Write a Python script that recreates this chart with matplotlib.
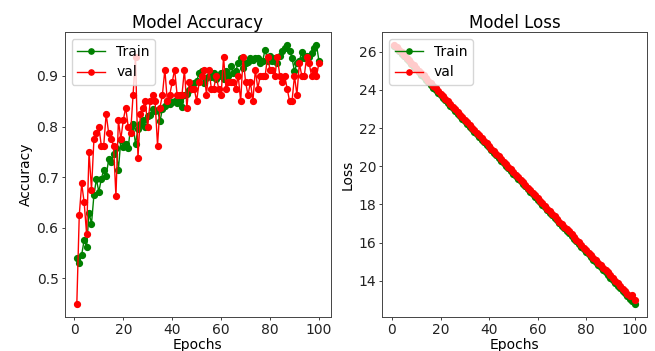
import matplotlib.pyplot as plt

epochs = list(range(1, 101))

train_acc = [0.541, 0.531, 0.547, 0.576, 0.562, 0.630, 0.608, 0.665, 0.696, 0.671,
             0.696, 0.715, 0.702, 0.735, 0.729, 0.746, 0.758, 0.715, 0.773, 0.760,
             0.765, 0.757, 0.800, 0.805, 0.765, 0.796, 0.805, 0.812, 0.800, 0.820,
             0.822, 0.835, 0.830, 0.833, 0.810, 0.835, 0.840, 0.850, 0.845, 0.848,
             0.850, 0.846, 0.850, 0.838, 0.863, 0.865, 0.872, 0.880, 0.885, 0.890,
             0.905, 0.909, 0.885, 0.895, 0.900, 0.897, 0.905, 0.893, 0.900, 0.905,
             0.893, 0.910, 0.900, 0.919, 0.905, 0.910, 0.925, 0.935, 0.915, 0.925,
             0.928, 0.935, 0.932, 0.935, 0.935, 0.925, 0.930, 0.952, 0.930, 0.940,
             0.930, 0.935, 0.925, 0.940, 0.950, 0.955, 0.961, 0.950, 0.935, 0.909,
             0.925, 0.930, 0.947, 0.935, 0.940, 0.938, 0.945, 0.955, 0.961, 0.930]

val_acc = [0.4500, 0.6250, 0.6875, 0.6500, 0.5875, 0.7500, 0.6750, 0.7750, 0.7875, 0.8000,
           0.7625, 0.7625, 0.8250, 0.7875, 0.7750, 0.7625, 0.6625, 0.8125, 0.7750, 0.8125,
           0.8375, 0.8000, 0.7875, 0.8625, 0.9375, 0.7375, 0.8250, 0.8375, 0.8500, 0.8000,
           0.8500, 0.8625, 0.8500, 0.7625, 0.8375, 0.8625, 0.9125, 0.8500, 0.8625, 0.8875,
           0.9125, 0.8625, 0.8625, 0.8625, 0.9125, 0.8375, 0.8875, 0.8750, 0.8750, 0.8500,
           0.8875, 0.9000, 0.9125, 0.8625, 0.9125, 0.8750, 0.8750, 0.9000, 0.8750, 0.8625,
           0.9375, 0.8750, 0.8875, 0.8875, 0.8875, 0.8750, 0.9000, 0.8500, 0.9375, 0.8875,
           0.8625, 0.8875, 0.8500, 0.9125, 0.8750, 0.9000, 0.9000, 0.9000, 0.9375, 0.9125,
           0.9125, 0.9000, 0.9375, 0.9000, 0.8875, 0.9000, 0.8750, 0.8500, 0.8500, 0.9000,
           0.8625, 0.9250, 0.9000, 0.9000, 0.9375, 0.9250, 0.9000, 0.9125, 0.9000, 0.9250]

train_loss = [26.32, 26.18, 26.05, 25.90, 25.78, 25.63, 25.50, 25.36, 25.22, 25.09,
              24.95, 24.81, 24.68, 24.54, 24.40, 24.27, 24.13, 23.99, 23.86, 23.72,
              23.58, 23.45, 23.31, 23.17, 23.04, 22.90, 22.76, 22.63, 22.49, 22.35,
              22.22, 22.08, 21.94, 21.81, 21.67, 21.53, 21.40, 21.26, 21.12, 20.99,
              20.85, 20.71, 20.58, 20.44, 20.30, 20.17, 20.03, 19.89, 19.76, 19.62,
              19.48, 19.35, 19.21, 19.07, 18.94, 18.80, 18.66, 18.53, 18.39, 18.25,
              18.12, 17.98, 17.84, 17.71, 17.57, 17.43, 17.30, 17.16, 17.02, 16.89,
              16.75, 16.61, 16.48, 16.34, 16.20, 16.07, 15.93, 15.79, 15.66, 15.52,
              15.38, 15.25, 15.11, 14.97, 14.84, 14.70, 14.56, 14.43, 14.29, 14.15,
              14.02, 13.88, 13.74, 13.61, 13.47, 13.33, 13.20, 13.06, 12.92, 12.79]

val_loss = [26.36, 26.25, 26.10, 25.98, 25.84, 25.70, 25.58, 25.44, 25.30, 25.16,
            25.02, 24.90, 24.76, 24.62, 24.49, 24.36, 24.20, 24.08, 23.94, 23.80,
            23.66, 23.52, 23.40, 23.26, 23.10, 22.98, 22.84, 22.70, 22.57, 22.43,
            22.30, 22.16, 22.02, 21.88, 21.75, 21.62, 21.47, 21.34, 21.21, 21.06,
            20.93, 20.80, 20.66, 20.52, 20.38, 20.24, 20.11, 19.97, 19.84, 19.70,
            19.56, 19.42, 19.29, 19.15, 19.01, 18.88, 18.74, 18.60, 18.47, 18.33,
            18.19, 18.06, 17.92, 17.78, 17.64, 17.52, 17.38, 17.24, 17.10, 16.97,
            16.84, 16.72, 16.62, 16.45, 16.30, 16.16, 16.02, 15.88, 15.74, 15.61,
            15.47, 15.34, 15.20, 15.07, 14.94, 14.80, 14.66, 14.56, 14.48, 14.30,
            14.14, 14.00, 13.86, 13.72, 13.58, 13.44, 13.32, 13.22, 13.25, 13.00]

fig = plt.figure(figsize=(6.55, 3.51), dpi=100)
ax1 = fig.add_axes([0.0988, 0.0977, 0.4066, 0.811])
ax2 = fig.add_axes([0.5838, 0.0977, 0.4035, 0.811])


def style_axes(ax, title, ylabel):
    ax.set_title(title, fontsize=12, pad=3)
    ax.set_xlabel('Epochs', fontsize=10, labelpad=1)
    ax.set_ylabel(ylabel, fontsize=10, labelpad=3)
    ax.set_xticks([0, 20, 40, 60, 80, 100])
    ax.tick_params(labelsize=10, length=2.2, width=0.6, pad=2.2, colors='#222222')
    for sp in ax.spines.values():
        sp.set_linewidth(0.7)
        sp.set_color('#444444')
    ax.legend(loc='upper left', fontsize=10, markerscale=0.9)


ax1.plot(epochs, train_acc, color='green', marker='o', markersize=4.2, linewidth=1.0, label='Train')
ax1.plot(epochs, val_acc, color='red', marker='o', markersize=4.2, linewidth=1.0, label='val')
style_axes(ax1, 'Model Accuracy', 'Accuracy')

ax2.plot(epochs, train_loss, color='green', marker='o', markersize=4.2, linewidth=1.0, label='Train')
ax2.plot(epochs, val_loss, color='red', marker='o', markersize=4.2, linewidth=1.0, label='val')
style_axes(ax2, 'Model Loss', 'Loss')

plt.savefig('out.png', dpi=100)
plt.close()
